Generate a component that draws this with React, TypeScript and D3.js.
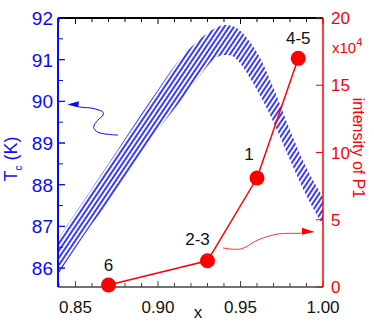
import * as d3 from "d3";

// red series: intensity of P1 (x10^4) per sample
const sampleX = [0.87, 0.93, 0.96, 0.985];
const sampleIntensity = [0.15, 1.95, 8.1, 17.0];
const sampleLabels = ["6", "2-3", "1", "4-5"];

// hatched Tc band (upper / lower edge)
const bandX = [0.84, 0.85, 0.86, 0.87, 0.88, 0.89, 0.9, 0.91, 0.92, 0.93, 0.935, 0.94, 0.945, 0.95, 0.96, 0.97, 0.98, 0.99, 1.0];
const bandUpper = [86.72, 87.32, 87.91, 88.5, 89.1, 89.7, 90.28, 90.85, 91.3, 91.64, 91.76, 91.83, 91.81, 91.69, 91.18, 90.32, 89.31, 88.4, 87.7];
const bandLower = [85.88, 86.48, 87.06, 87.58, 88.18, 88.74, 89.31, 89.82, 90.32, 90.85, 91.04, 91.11, 91.09, 90.9, 90.27, 89.5, 88.59, 87.73, 87.03];

// tick values
const xMajor = [0.85, 0.9, 0.95, 1.0];
const xMinor = d3.range(84, 101).map((v) => v / 100);
const tcTicks = [86, 87, 88, 89, 90, 91, 92];
const tcMinor = d3.range(86, 92, 0.5);
const intTicks = [0, 5, 10, 15, 20];

// arrows pointing to the axes (data coordinates)
const blueArrowX = [0.8758, 0.8636, 0.861, 0.8636, 0.8667, 0.8667, 0.8642, 0.8594, 0.8533, 0.8455];
const blueArrowY = [89.19, 89.26, 89.38, 89.55, 89.67, 89.74, 89.79, 89.84, 89.86, 89.93];
const redArrowX = [0.9394, 0.9503, 0.9606, 0.9727, 0.9867, 0.9945];
const redArrowY = [2.9, 2.83, 3.5, 3.94, 4.0, 4.1];

const BLUE = "#0a0aff";
const RED = "#ff0000";
const FONT = "'Liberation Sans', Arial, sans-serif";

export default function App() {
  const left = 58, right = 323, top = 18, bottom = 287;

  const x = d3.scaleLinear().domain([0.8394, 1.0]).range([left, right]);
  const yL = d3.scaleLinear().domain([85.545, 92]).range([bottom, top]);
  const yR = d3.scaleLinear().domain([0, 20]).range([bottom, top]);

  const band = d3.area<number>()
    .x((d, i) => x(bandX[i]))
    .y0((d, i) => yL(bandLower[i]))
    .y1((d, i) => yL(bandUpper[i]))
    .curve(d3.curveCatmullRom);

  const redLine = d3.line<number>()
    .x((d, i) => x(sampleX[i]))
    .y((d) => yR(d));

  const blueArrow = d3.line<number>()
    .x((d, i) => x(blueArrowX[i]))
    .y((d) => yL(d))
    .curve(d3.curveCatmullRom);

  const redArrow = d3.line<number>()
    .x((d, i) => x(redArrowX[i]))
    .y((d) => yR(d))
    .curve(d3.curveCatmullRom);

  const bTip = [x(blueArrowX[blueArrowX.length - 1]), yL(blueArrowY[blueArrowY.length - 1])];
  const rTip = [x(redArrowX[redArrowX.length - 1]), yR(redArrowY[redArrowY.length - 1])];

  return (
    <svg width={374} height={329} style={{ position: "absolute", left: 0, top: 0 }} fontFamily={FONT}>
      <defs>
        <pattern id="hatch" width={4} height={4} patternUnits="userSpaceOnUse" patternTransform="rotate(-56)">
          <line x1={0} y1={1} x2={4} y2={1} stroke={BLUE} strokeWidth={1.6} />
        </pattern>
        <clipPath id="plot">
          <rect x={left} y={top} width={right - left} height={bottom - top} />
        </clipPath>
      </defs>

      {/* Tc band */}
      <path d={band(bandX) ?? ""} fill="url(#hatch)" clipPath="url(#plot)" />

      {/* annotation arrows */}
      <path d={blueArrow(blueArrowY) ?? ""} fill="none" stroke={BLUE} strokeWidth={1} />
      <path d={`M${bTip[0]},${bTip[1]} l11,-3 l-1,6 z`} fill={BLUE} />
      <path d={redArrow(redArrowY) ?? ""} fill="none" stroke={RED} strokeWidth={1} opacity={0.8} />
      <path d={`M${rTip[0]},${rTip[1]} l-12,-4 l0,7 z`} fill={RED} />

      {/* frame: top & bottom */}
      <line x1={left} x2={right} y1={top} y2={top} stroke="#000" strokeWidth={2} />
      <line x1={left} x2={right} y1={bottom} y2={bottom} stroke="#444" strokeWidth={1.5} />
      {xMinor.map((v) => {
        const major = xMajor.some((m) => Math.abs(m - v) < 1e-6);
        const len = major ? 6 : 4;
        return (
          <g key={v}>
            <line x1={x(v)} x2={x(v)} y1={top} y2={top + len} stroke="#000" strokeWidth={1} />
            <line x1={x(v)} x2={x(v)} y1={bottom} y2={bottom - len} stroke="#444" strokeWidth={1} />
          </g>
        );
      })}
      {xMajor.map((v) => (
        <text key={v} x={x(v)} y={313} textAnchor="middle" fontSize={17} fill="#111">
          {v.toFixed(2)}
        </text>
      ))}
      <text x={198} y={318} textAnchor="middle" fontSize={17} fill="#111">x</text>

      {/* left axis */}
      <line x1={left} x2={left} y1={top} y2={bottom} stroke={BLUE} strokeWidth={2} />
      {tcMinor.map((v) => (
        <line key={v} x1={left} x2={left + (v % 1 === 0 ? 7 : 5)} y1={yL(v)} y2={yL(v)} stroke={BLUE} strokeWidth={1} />
      ))}
      {tcTicks.map((v) => (
        <g key={v}>
          <line x1={left} x2={left + 7} y1={yL(v)} y2={yL(v)} stroke={BLUE} strokeWidth={1} />
          <text x={53} y={yL(v)} dy="0.36em" textAnchor="end" fontSize={19} fill={BLUE}>{v}</text>
        </g>
      ))}
      <text transform="translate(17,159) rotate(-90)" textAnchor="middle" fontSize={18} fill={BLUE}>
        <tspan>T</tspan>
        <tspan dy={5} fontSize={10}>c</tspan>
        <tspan dy={-5}> (K)</tspan>
      </text>

      {/* right axis */}
      <line x1={right} x2={right} y1={top} y2={bottom} stroke={RED} strokeWidth={1.5} />
      {intTicks.map((v) => (
        <g key={v}>
          <line x1={right} x2={right - 7} y1={yR(v)} y2={yR(v)} stroke={RED} strokeWidth={1} />
          <text x={331} y={yR(v)} dy="0.36em" textAnchor="start" fontSize={17} fill={RED}>{v}</text>
        </g>
      ))}
      <text x={332} y={53} fontSize={15} fill={RED}>
        x10<tspan dy={-7} fontSize={11}>4</tspan>
      </text>
      <text transform="translate(353,148) rotate(90)" textAnchor="middle" fontSize={16} fill={RED}>
        intensity of P1
      </text>

      {/* red series */}
      <path d={redLine(sampleIntensity) ?? ""} fill="none" stroke={RED} strokeWidth={1.5} />
      {sampleIntensity.map((v, i) => (
        <circle key={i} cx={x(sampleX[i])} cy={yR(v)} r={7.5} fill={RED} />
      ))}
      {sampleIntensity.map((v, i) => {
        const offs = [[0, -14], [-10, -16], [-8, -18], [0, -14]][i];
        return (
          <text key={i} x={x(sampleX[i]) + offs[0]} y={yR(v) + offs[1]} textAnchor="middle" fontSize={17} fill="#111">
            {sampleLabels[i]}
          </text>
        );
      })}
    </svg>
  );
}
